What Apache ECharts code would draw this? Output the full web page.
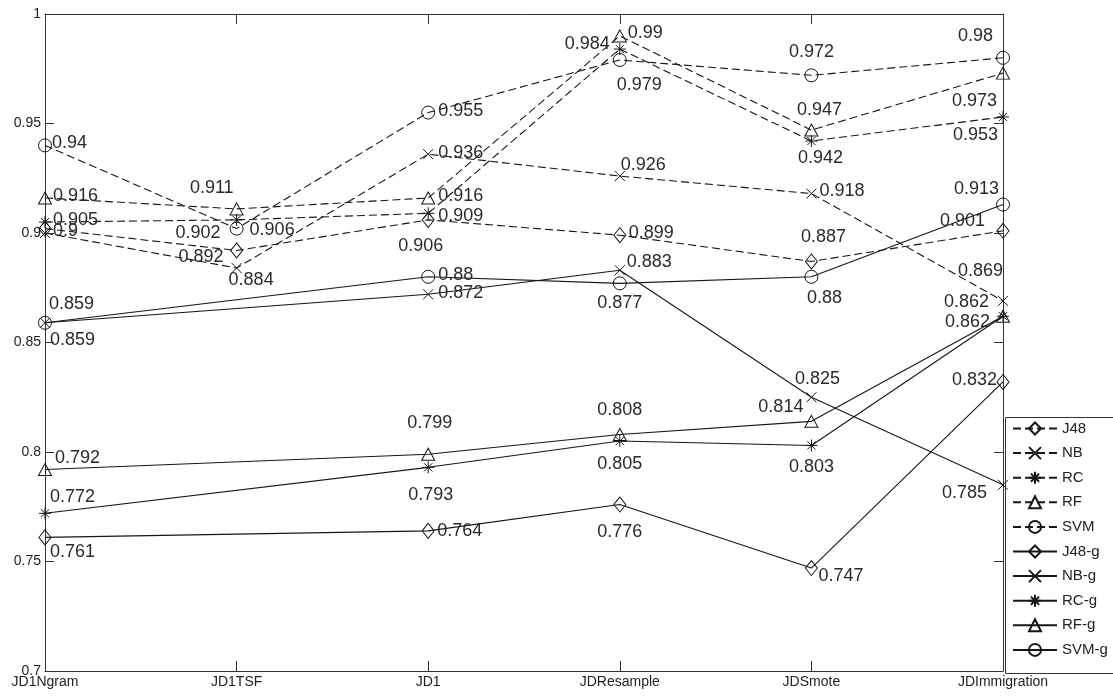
<!DOCTYPE html>
<html>
<head>
<meta charset="utf-8">
<script src="https://cdn.jsdelivr.net/npm/echarts@6/dist/echarts.min.js"></script>
<style>
html,body{margin:0;padding:0;background:#fff;}
#chart{width:1113px;height:698px;}
</style>
</head>
<body>
<div id="chart"></div>
<script>
// ---- data ----
const categories = ['JD1Ngram', 'JD1TSF', 'JD1', 'JDResample', 'JDSmote', 'JDImmigration'];
const seriesNames = ['J48', 'NB', 'RC', 'RF', 'SVM', 'J48-g', 'NB-g', 'RC-g', 'RF-g', 'SVM-g'];
const J48  = [0.902, 0.892, 0.906, 0.899, 0.887, 0.901];
const NB   = [0.9, 0.884, 0.936, 0.926, 0.918, 0.869];
const RC   = [0.905, 0.906, 0.909, 0.984, 0.942, 0.953];
const RF   = [0.916, 0.911, 0.916, 0.99, 0.947, 0.973];
const SVM  = [0.94, 0.902, 0.955, 0.979, 0.972, 0.98];
const J48g = [0.761, null, 0.764, 0.776, 0.747, 0.832];
const NBg  = [0.859, null, 0.872, 0.883, 0.825, 0.785];
const RCg  = [0.772, null, 0.793, 0.805, 0.803, 0.862];
const RFg  = [0.792, null, 0.799, 0.808, 0.814, 0.862];
const SVMg = [0.859, null, 0.88, 0.877, 0.88, 0.913];
const yMin = 0.7, yMax = 1, yStep = 0.05;

// ---- label placement (style: offset from point, alignment) ----
const labelPos = {
  'J48':   [null, [-13,7,'right'], [-30,26,'left'], [9,-2,'left'], [12,-24,'center'], [-18,-10,'right']],
  'NB':    [[8,-2,'left'], [-8,12,'left'], [10,-1,'left'], [1,-11,'left'], [8,-3,'left'], [0,-30,'right']],
  'RC':    [[8,-2,'left'], [13,10,'left'], [10,3,'left'], [-10,-5,'right'], [9,17,'center'], [-5,18,'right']],
  'RF':    [[8,-2,'left'], [-3,-21,'right'], [10,-2,'left'], [8,-3,'left'], [8,-20,'center'], [-6,28,'right']],
  'SVM':   [[7,-2,'left'], [-16,4,'right'], [10,-2,'left'], [-3,25,'left'], [0,-23,'center'], [-10,-22,'right']],
  'J48-g': [[5,15,'left'], null, [9,0,'left'], [0,27,'center'], [7,8,'left'], [-6,-2,'right']],
  'NB-g':  [[4,-19,'left'], null, [10,-1,'left'], [7,-8,'left'], [6,-18,'center'], [-16,8,'right']],
  'RC-g':  [[5,-16,'left'], null, [-20,28,'left'], [0,23,'center'], [0,22,'center'], [-13,6,'right']],
  'RF-g':  [[10,-11,'left'], null, [-21,-31,'left'], [0,-24,'center'], [-8,-14,'right'], [-14,-14,'right']],
  'SVM-g': [[5,17,'left'], null, [10,-2,'left'], [0,20,'center'], [13,21,'center'], [-4,-15,'right']]
};

const FONT = "'Liberation Sans', Arial, Helvetica, sans-serif";
const INK = '#161616';
const SYM_X = 'path://M0,0L10,10M10,0L0,10';
const SYM_STAR = 'path://M5,0L5,10M0,5L10,5M1.6,1.6L8.4,8.4M8.4,1.6L1.6,8.4';
const symbols = {
  'J48': ['diamond', [12, 15]], 'NB': [SYM_X, 10], 'RC': [SYM_STAR, 12],
  'RF': ['triangle', [13, 12]], 'SVM': ['circle', 13]
};
const values = {
  'J48': J48, 'NB': NB, 'RC': RC, 'RF': RF, 'SVM': SVM,
  'J48-g': J48g, 'NB-g': NBg, 'RC-g': RCg, 'RF-g': RFg, 'SVM-g': SVMg
};

function buildSeries(name) {
  const base = name.replace('-g', '');
  const dashed = name.indexOf('-g') < 0;
  const vals = values[name];
  const pos = labelPos[name];
  const data = vals.map((v, i) => {
    const p = pos[i];
    if (v === null) return null;
    if (!p) return { value: v, label: { show: false } };
    return {
      value: v,
      label: {
        show: true, position: 'inside', offset: [p[0], p[1]],
        align: p[2], verticalAlign: 'middle'
      }
    };
  });
  return {
    name: name,
    type: 'line',
    data: data,
    connectNulls: true,
    clip: false,
    symbol: symbols[base][0],
    symbolSize: symbols[base][1],
    showAllSymbol: true,
    animation: false,
    lineStyle: { color: INK, width: 1.1, type: dashed ? [8, 4] : 'solid' },
    itemStyle: { color: 'rgba(255,255,255,0)', borderColor: INK, borderWidth: 1 },
    label: {
      show: true, color: '#2a2a2a', fontSize: 18, fontFamily: FONT,
      formatter: (p) => String(p.value)
    },
    emphasis: { disabled: true }
  };
}

const chart = echarts.init(document.getElementById('chart'), null, { renderer: 'canvas' });
const axisLine = { show: true, lineStyle: { color: '#333', width: 1 } };
chart.setOption({
  backgroundColor: '#ffffff',
  animation: false,
  grid: { left: 45, right: 110, top: 14, bottom: 27 },
  xAxis: [
    {
      type: 'category', data: categories, boundaryGap: false, position: 'bottom',
      axisLine: axisLine,
      axisTick: { show: true, inside: true, length: 10, lineStyle: { color: '#333' } },
      axisLabel: { color: '#222', fontSize: 14, fontFamily: FONT, margin: 4, interval: 0 },
      splitLine: { show: false }
    },
    {
      type: 'category', data: categories, boundaryGap: false, position: 'top',
      axisLine: axisLine,
      axisTick: { show: true, inside: true, length: 10, lineStyle: { color: '#333' } },
      axisLabel: { show: false }, splitLine: { show: false }
    }
  ],
  yAxis: [
    {
      type: 'value', min: yMin, max: yMax, interval: yStep, position: 'left',
      axisLine: axisLine,
      axisTick: { show: true, inside: true, length: 9, lineStyle: { color: '#333' } },
      axisLabel: {
        color: '#222', fontSize: 14, fontFamily: FONT, margin: 4,
        formatter: (v) => String(+v.toFixed(2))
      },
      splitLine: { show: false }
    },
    {
      type: 'value', min: yMin, max: yMax, interval: yStep, position: 'right',
      axisLine: axisLine,
      axisTick: { show: true, inside: true, length: 9, lineStyle: { color: '#333' } },
      axisLabel: { show: false }, splitLine: { show: false }
    }
  ],
  legend: {
    orient: 'vertical', left: 1012, top: 421, padding: 0,
    itemWidth: 44, itemHeight: 15, itemGap: 9.6,
    data: seriesNames,
    textStyle: { color: '#222', fontSize: 15, fontFamily: FONT },
    selectedMode: false
  },
  graphic: [{
    type: 'rect', left: 1003, top: 415, z: 10, silent: true,
    shape: { x: 0, y: 0, width: 120, height: 256 },
    style: { fill: 'none', stroke: '#333', lineWidth: 1 }
  }],
  series: seriesNames.map(buildSeries)
});
</script>
</body>
</html>
